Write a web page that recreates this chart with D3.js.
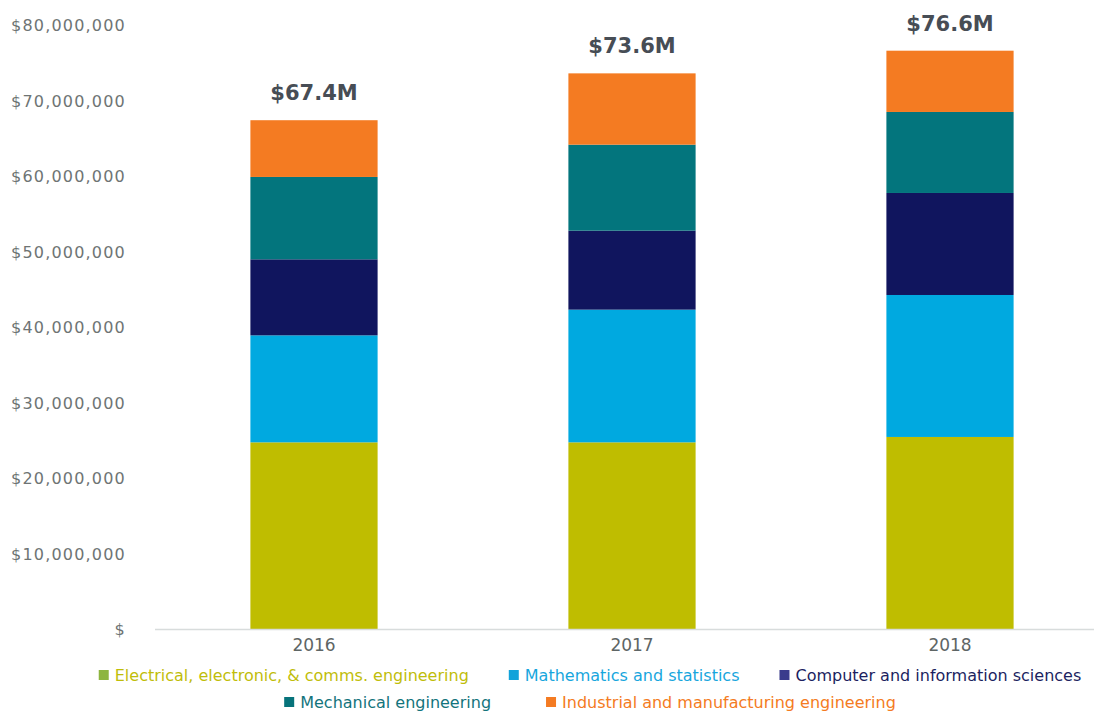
<!DOCTYPE html>
<html>
<head>
<meta charset="utf-8">
<script src="https://cdn.jsdelivr.net/npm/d3@7"></script>
<style>
  html, body { margin: 0; padding: 0; background: #ffffff; }
  svg { display: block; }
  text { font-family: "DejaVu Sans", sans-serif; }
</style>
</head>
<body>
<svg id="chart" width="1094" height="711"></svg>
<script>
// Funding by field, in millions of dollars
const years = ["2016", "2017", "2018"];
const seriesNames = [
  "Electrical, electronic, & comms. engineering",
  "Mathematics and statistics",
  "Computer and information sciences",
  "Mechanical engineering",
  "Industrial and manufacturing engineering"
];
const electrical   = [24.77, 24.77, 25.48];
const mathematics  = [14.16, 17.56, 18.79];
const computer     = [10.06, 10.45, 13.50];
const mechanical   = [10.90, 11.38, 10.72];
const industrial   = [7.51, 9.44, 8.11];
const yTicks = [0, 10, 20, 30, 40, 50, 60, 70, 80];

const barColors    = ["#bfbd00", "#00a9e0", "#10155e", "#03757d", "#f47b22"];
const swatchColors = ["#8db53f", "#12a3da", "#3a3c8c", "#07737b", "#f47b22"];
const labelColors  = ["#bfbd0a", "#17a6dd", "#1c1f5f", "#13747c", "#f47b22"];

const seriesValues = [electrical, mathematics, computer, mechanical, industrial];
const rows = years.map((y, i) => {
  const r = { year: y };
  seriesNames.forEach((s, k) => { r[s] = seriesValues[k][i]; });
  return r;
});
const totals = years.map((y, i) => d3.sum(seriesValues, s => s[i]));

const svg = d3.select("#chart");

const x = d3.scaleBand()
  .domain(years)
  .range([155, 1109])
  .paddingInner(0.6)
  .paddingOuter(0.3);

const y = d3.scaleLinear()
  .domain([0, 80])
  .range([629.5, 25]);

// y axis labels (no line, no ticks)
const yAxis = d3.axisLeft(y)
  .tickValues(yTicks)
  .tickSize(0)
  .tickPadding(0)
  .tickFormat(d => d === 0 ? "$" : "$" + d3.format(",")(d * 1e6));

svg.append("g")
  .attr("transform", "translate(126,0)")
  .call(yAxis)
  .call(g => g.select(".domain").remove())
  .call(g => g.selectAll("text")
    .attr("fill", "#6e7474")
    .attr("font-size", 16)
    .attr("letter-spacing", "1.2px")
    .attr("dy", "0.34em")
    .style("font-family", "DejaVu Sans"));

// stacked bars
const stack = d3.stack().keys(seriesNames);
const layers = stack(rows);

svg.append("g")
  .selectAll("g")
  .data(layers)
  .join("g")
  .attr("fill", (d, i) => barColors[i])
  .selectAll("rect")
  .data(d => d)
  .join("rect")
  .attr("x", d => x(d.data.year))
  .attr("width", x.bandwidth())
  .attr("y", d => y(d[1]))
  .attr("height", d => y(d[0]) - y(d[1]));

// baseline
const xAxis = d3.axisBottom(x).tickSize(0).tickPadding(0);
svg.append("g")
  .attr("transform", "translate(0,629.5)")
  .call(xAxis)
  .call(g => g.select(".domain")
    .attr("d", "M155,0H1094")
    .attr("stroke", "#d8dcdc")
    .attr("stroke-width", 1.5))
  .call(g => g.selectAll("text")
    .attr("fill", "#5e6565")
    .attr("font-size", 17)
    .attr("dy", null)
    .attr("y", 21)
    .style("font-family", "DejaVu Sans"));

// total labels
svg.append("g")
  .selectAll("text")
  .data(years)
  .join("text")
  .attr("x", d => x(d) + x.bandwidth() / 2)
  .attr("y", (d, i) => y(totals[i]) - 20)
  .attr("text-anchor", "middle")
  .attr("font-size", 21)
  .attr("font-weight", "bold")
  .attr("fill", "#474d55")
  .text((d, i) => "$" + totals[i].toFixed(1) + "M");

// legend, two centred rows
const legendRows = [
  { items: [0, 1, 2], baseline: 681, gap: 40 },
  { items: [3, 4], baseline: 708, gap: 55 }
];
const swatch = 10, swatchGap = 6, centerX = 590;
const legend = svg.append("g");
legendRows.forEach(row => {
  const g = legend.append("g");
  let cx = 0;
  row.items.forEach((k, j) => {
    const item = g.append("g").attr("transform", `translate(${cx},0)`);
    item.append("rect")
      .attr("x", 0)
      .attr("y", row.baseline - swatch - 1)
      .attr("width", swatch)
      .attr("height", swatch)
      .attr("fill", swatchColors[k]);
    const t = item.append("text")
      .attr("x", swatch + swatchGap)
      .attr("y", row.baseline)
      .attr("font-size", 16)
      .attr("fill", labelColors[k])
      .text(seriesNames[k]);
    const w = t.node().getComputedTextLength();
    cx += swatch + swatchGap + w + row.gap;
  });
  const total = cx - row.gap;
  g.attr("transform", `translate(${centerX - total / 2},0)`);
});
</script>
</body>
</html>
